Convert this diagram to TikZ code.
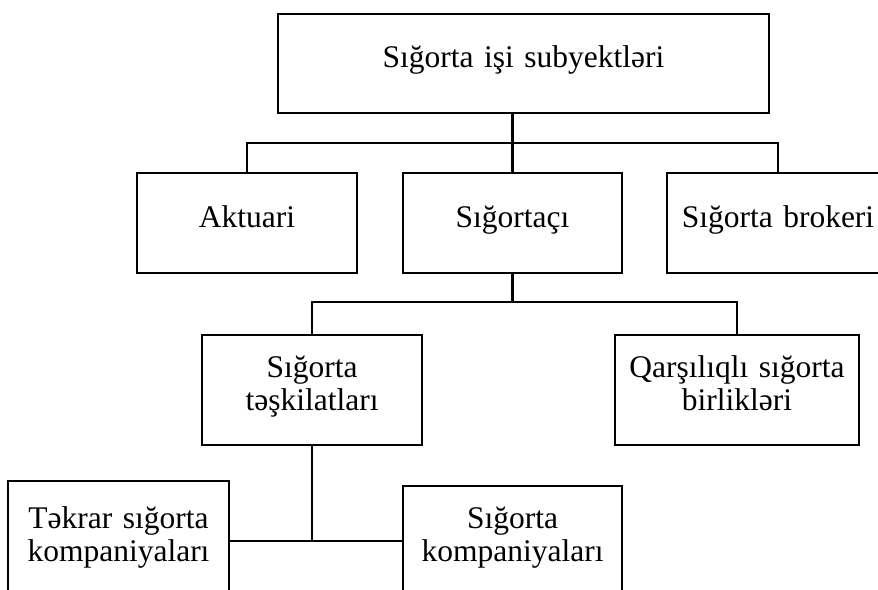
\documentclass[tikz,border=0pt]{standalone}
\usepackage{fontspec}
\setmainfont{Liberation Serif}
\usetikzlibrary{positioning,calc}

\begin{document}
\begin{tikzpicture}[x=1pt, y=-1pt, node distance=46pt]
  \tikzstyle{box} = [rectangle, draw, line width=2.4pt, outer sep=0pt, inner sep=2pt, minimum width=220pt, minimum height=100pt, text width=214pt, align=center, text height=20pt, text depth=12pt, font=\fontsize{31.5}{33}\selectfont]
  \tikzstyle{twoline} = [minimum height=110pt, text depth=46pt]
  \tikzstyle{line} = [draw, line width=2.4pt]
  \useasboundingbox (0,0) rectangle (878,589);
  % Place nodes
  \node [box, minimum width=491pt, minimum height=99pt, text width=485pt, text depth=13pt] (top) at (523.5,63.5) {Sığorta işi subyektləri};
  \node [box] (aktuari) at (247,223) {Aktuari};
  \node [box, minimum width=219pt, text width=213pt, right=46pt of aktuari] (sigortaci) {Sığortaçı};
  \node [box, minimum width=222pt, text width=216pt, right=45pt of sigortaci] (broker) {Sığorta brokeri};
  \node [box, twoline] (teskilat) at (312,390) {Sığorta\\təşkilatları};
  \node [box, twoline, minimum width=244pt, text width=238pt, right=193pt of teskilat] (qarsiliqli) {Qarşılıqlı sığorta\\birlikləri};
  \node [box, twoline, minimum width=221pt, text width=215pt, minimum height=120pt] (tekrar) at (118.5,541) {Təkrar sığorta\\kompaniyaları};
  \node [box, twoline, minimum width=219pt, text width=213pt] (komp) at (sigortaci |- tekrar) {Sığorta\\kompaniyaları};

  \coordinate (bus1) at ($(top.south)!0.5!(aktuari.north)$);
  \coordinate [below=29pt of sigortaci.south] (bus2);
  \path [line] (top.south -| sigortaci.north) -- (sigortaci.north);
  \path [line] (aktuari.north) |- (bus1) -| (broker.north);
  \path [line] (sigortaci.south) -- (bus2);
  \path [line] (teskilat.north) |- (bus2) -| (qarsiliqli.north);
  \path [line] (teskilat.south) -- (teskilat.south |- tekrar.east);
  \path [line] (tekrar.east) -- (komp.west);
\end{tikzpicture}
\end{document}
